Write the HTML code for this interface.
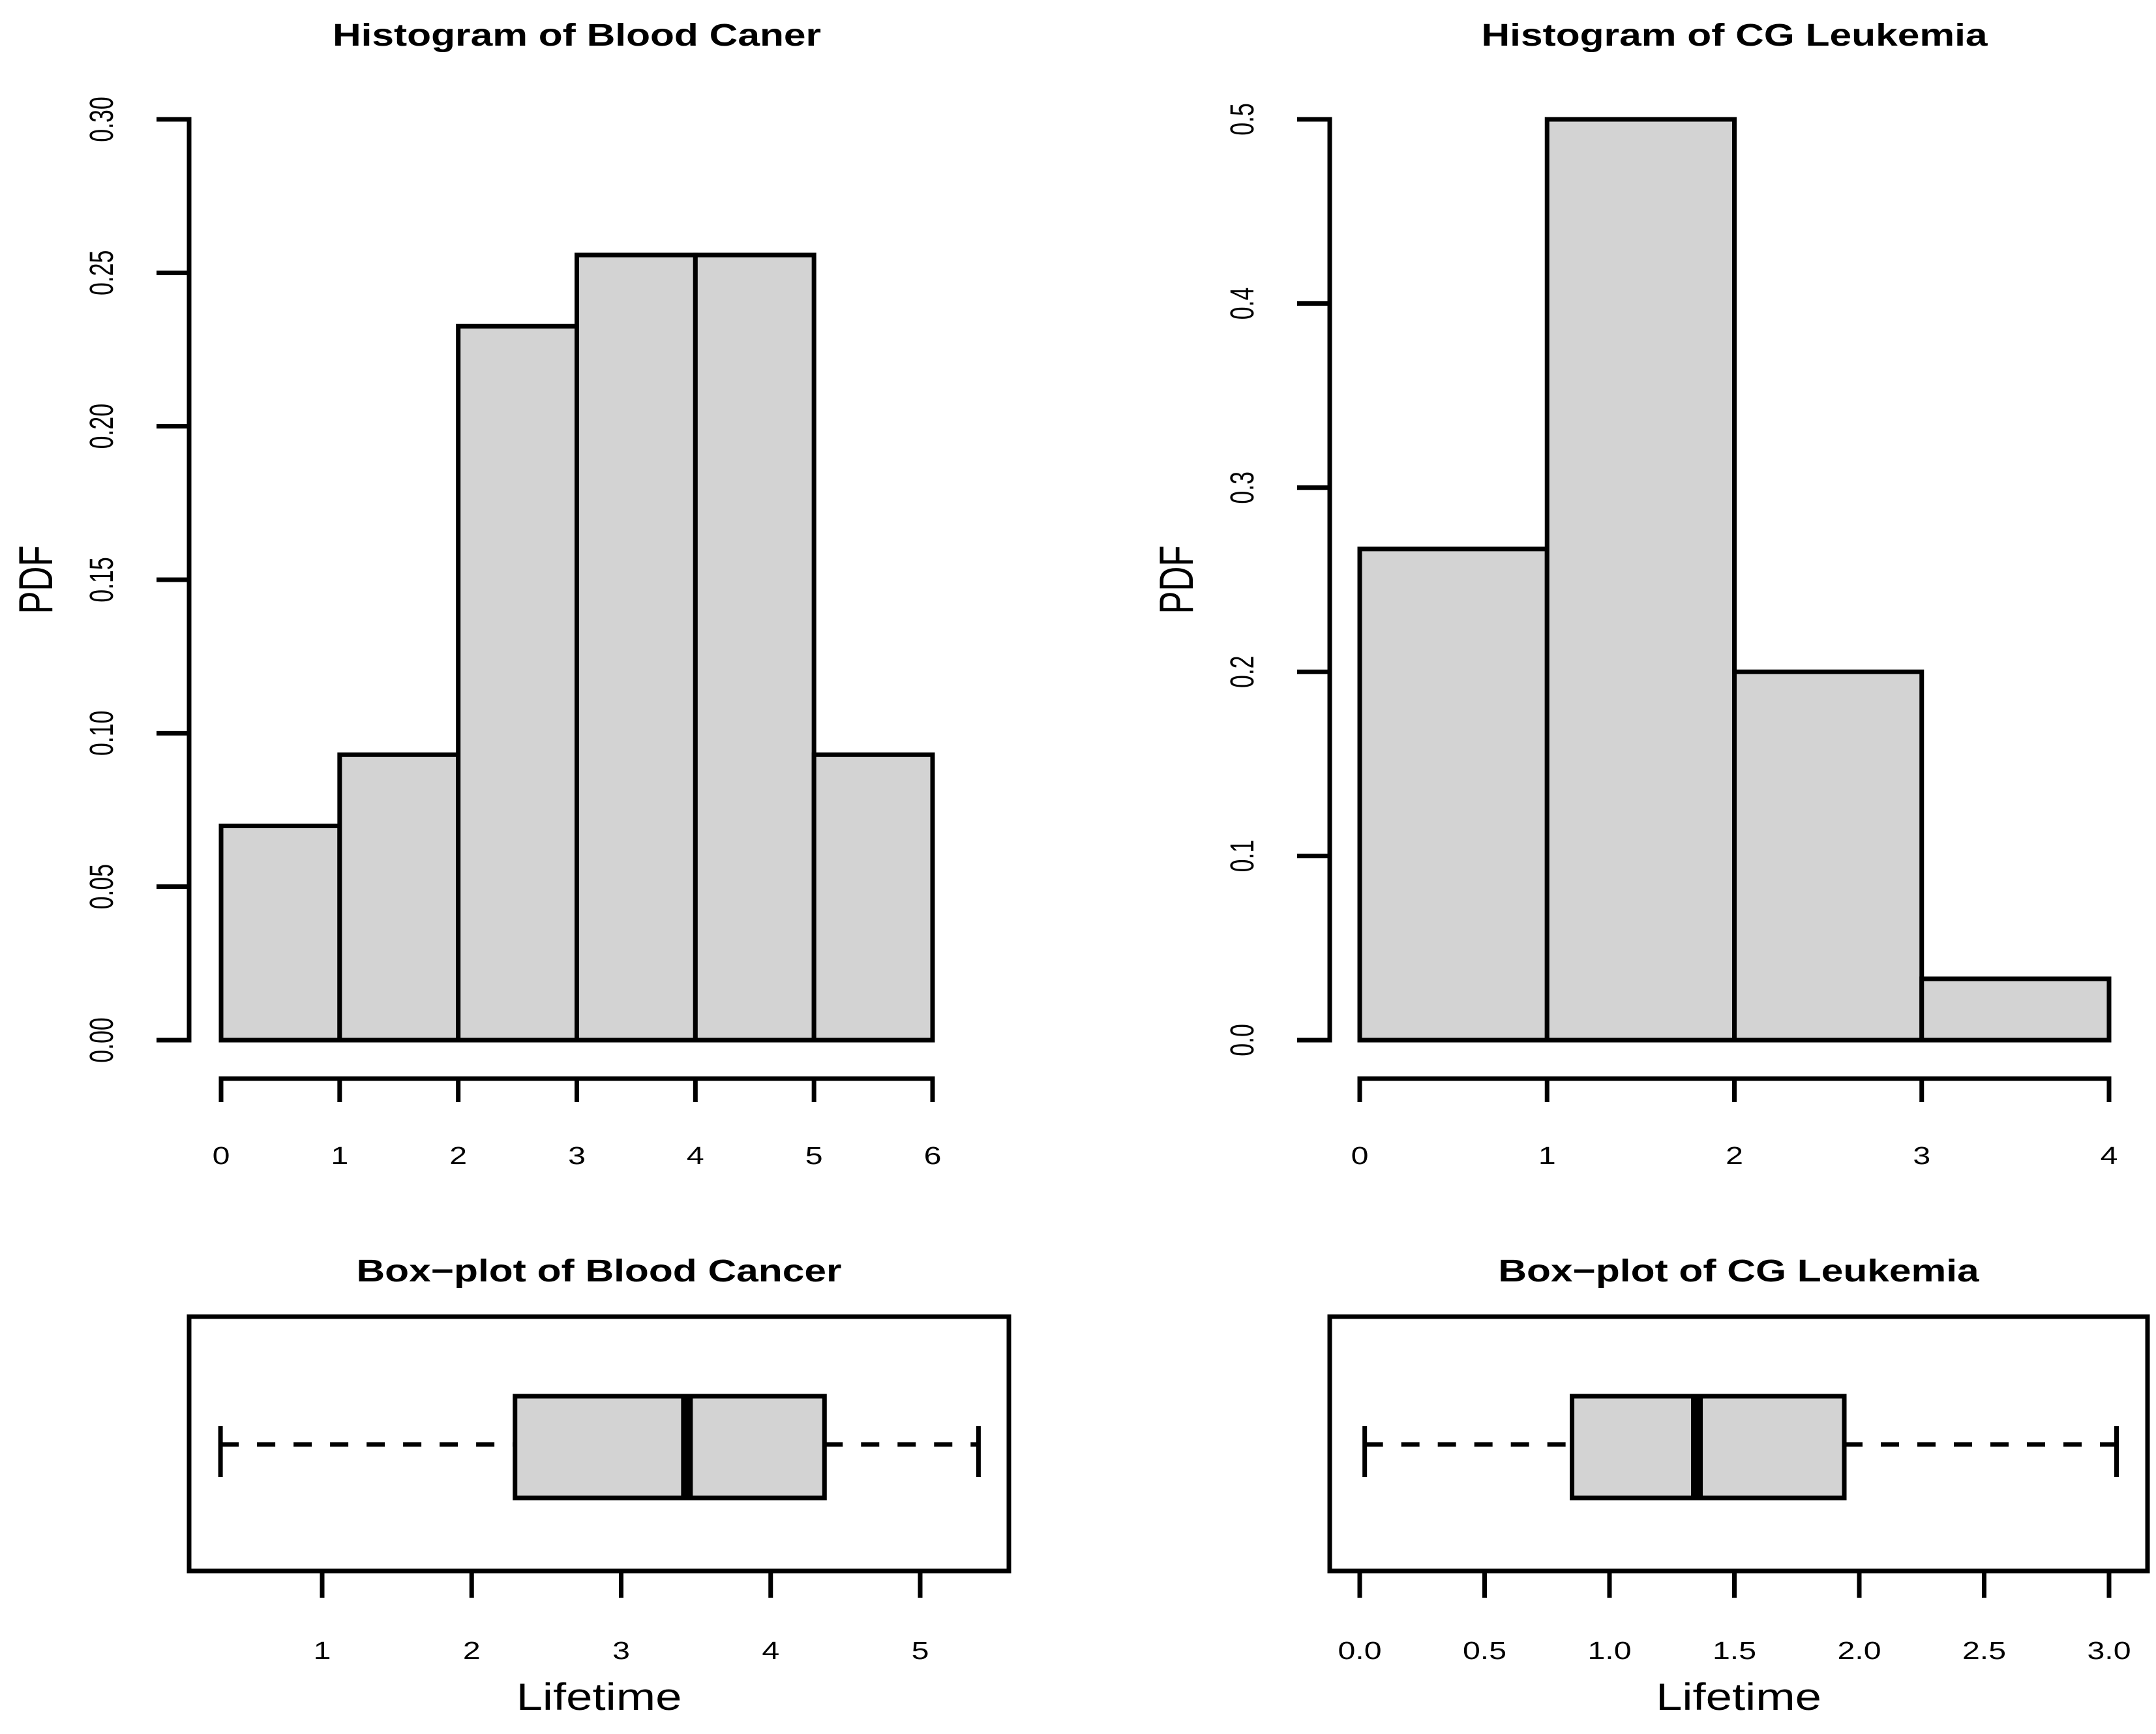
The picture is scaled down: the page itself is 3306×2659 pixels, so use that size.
<!DOCTYPE html>
<html><head><meta charset="utf-8"><style>
html,body{margin:0;padding:0;background:#fff;}
svg{display:block;}
text{font-family:"Liberation Sans",sans-serif;fill:#000;}
</style></head><body>
<svg id="chart" xmlns="http://www.w3.org/2000/svg" width="3306" height="2659" viewBox="0 0 3306 2659"></svg>
<script>
const h1Breaks = [0,1,2,3,4,5,6];
const h1Density = [0.0698,0.0930,0.2326,0.2558,0.2558,0.0930];
const h1YTicks = ["0.00","0.05","0.10","0.15","0.20","0.25","0.30"];
const h2Breaks = [0,1,2,3,4];
const h2Density = [0.2667,0.5,0.2,0.0333];
const h2YTicks = ["0.0","0.1","0.2","0.3","0.4","0.5"];
const b1Stats = [0.32,2.29,3.44,4.36,5.39];
const b1Ticks = ["1","2","3","4","5"];
const b2Stats = [0.02,0.85,1.35,1.94,3.03];
const b2Ticks = ["0.0","0.5","1.0","1.5","2.0","2.5","3.0"];

const NS="http://www.w3.org/2000/svg";
const svg=document.getElementById('chart');
const LW=7;
function mk(tag,attrs,parent,txt){const e=document.createElementNS(NS,tag);for(const k in attrs)e.setAttribute(k,attrs[k]);if(txt!==undefined)e.textContent=txt;(parent||svg).appendChild(e);return e;}
function line(x1,y1,x2,y2,name,extra){const e=mk('line',Object.assign({x1,y1,x2,y2,stroke:'#000','stroke-width':LW},extra||{}));


return e;}
function txt(x,y,s,size,name,extra,sx,rot){
  const tr=`translate(${x},${y})`+(rot?' rotate(-90)':'')+` scale(${sx||1},1)`;
  const e=mk('text',Object.assign({x:0,y:0,'font-size':size,'text-anchor':'middle',transform:tr},extra||{}),svg,s);
  
  
  return e;}

function hist(breaks,dens,yticks,x0px,x1px,yAxisX,title,prefix){
  const ymax=parseFloat(yticks[yticks.length-1]);
  const bx0=breaks[0],bx1=breaks[breaks.length-1];
  const sx=v=>x0px+(v-bx0)/(bx1-bx0)*(x1px-x0px);
  const sy=v=>1595-(v/ymax)*(1595-183);
  txt((x0px+x1px)/2,70,title,48,prefix+'-title',{'font-weight':'bold'},1.26);
  line(yAxisX,sy(0),yAxisX,sy(ymax),prefix+'-y-axis',{'stroke-linecap':'square'});
  yticks.forEach(t=>{const v=parseFloat(t);const y=sy(v);
    line(yAxisX-50,y,yAxisX,y,prefix+'-y-tick');
    txt(yAxisX-117,y,t,51,prefix+'-y-tick-label',{},0.7,true);
  });
  txt(yAxisX-210,sy(ymax/2),'PDF',73,prefix+'-y-axis-title',{},0.72,true);
  dens.forEach((d,i)=>{const r=mk('rect',{x:sx(breaks[i]),y:sy(d),width:sx(breaks[i+1])-sx(breaks[i]),height:sy(0)-sy(d),fill:'#d3d3d3',stroke:'#000','stroke-width':LW});
    
    });
  line(sx(bx0),1654,sx(bx1),1654,prefix+'-x-axis',{'stroke-linecap':'square'});
  breaks.forEach(b=>{line(sx(b),1654,sx(b),1690,prefix+'-x-tick');
    txt(sx(b),1785,String(b),38,prefix+'-x-tick-label',{},1.27);});
}
hist(h1Breaks,h1Density,h1YTicks,339,1430,290,'Histogram of Blood Caner','hist-blood');
hist(h2Breaks,h2Density,h2YTicks,2085,3234,2039,'Histogram of CG Leukemia','hist-cg');

function box(stats,ticks,fx0,fx1,t0px,t0v,t1px,t1v,title,prefix){
  const sx=v=>t0px+(v-t0v)/(t1v-t0v)*(t1px-t0px);
  txt((fx0+fx1)/2,1965,title,48,prefix+'-title',{'font-weight':'bold'},1.26);
  const f=mk('rect',{x:fx0,y:2019,width:fx1-fx0,height:390,fill:'none',stroke:'#000','stroke-width':LW});
  
  
  const cy=2215;
  line(sx(stats[0]),cy,sx(stats[1]),cy,prefix+'-whisker-low',{'stroke-dasharray':'28 28'});
  line(sx(stats[3]),cy,sx(stats[4]),cy,prefix+'-whisker-high',{'stroke-dasharray':'28 28'});
  line(sx(stats[0]),2187,sx(stats[0]),2265,prefix+'-staple-low');
  line(sx(stats[4]),2187,sx(stats[4]),2265,prefix+'-staple-high');
  const b=mk('rect',{x:sx(stats[1]),y:2141,width:sx(stats[3])-sx(stats[1]),height:156,fill:'#d3d3d3',stroke:'#000','stroke-width':LW});
  
  
  line(sx(stats[2]),2141,sx(stats[2]),2297,prefix+'-median',{'stroke-width':18});
  ticks.forEach(t=>{const x=sx(parseFloat(t));line(x,2409,x,2450,prefix+'-x-tick');
    txt(x,2544,t,38,prefix+'-x-tick-label',{},1.27);});
  txt((fx0+fx1)/2,2622,'Lifetime',58,prefix+'-x-axis-title',{},1.25);
}
box(b1Stats,b1Ticks,290,1547,494,1,1411,5,'Box\u2212plot of Blood Cancer','box-blood');
box(b2Stats,b2Ticks,2039,3293,2085,0,3234,3,'Box\u2212plot of CG Leukemia','box-cg');
</script>
</body></html>
